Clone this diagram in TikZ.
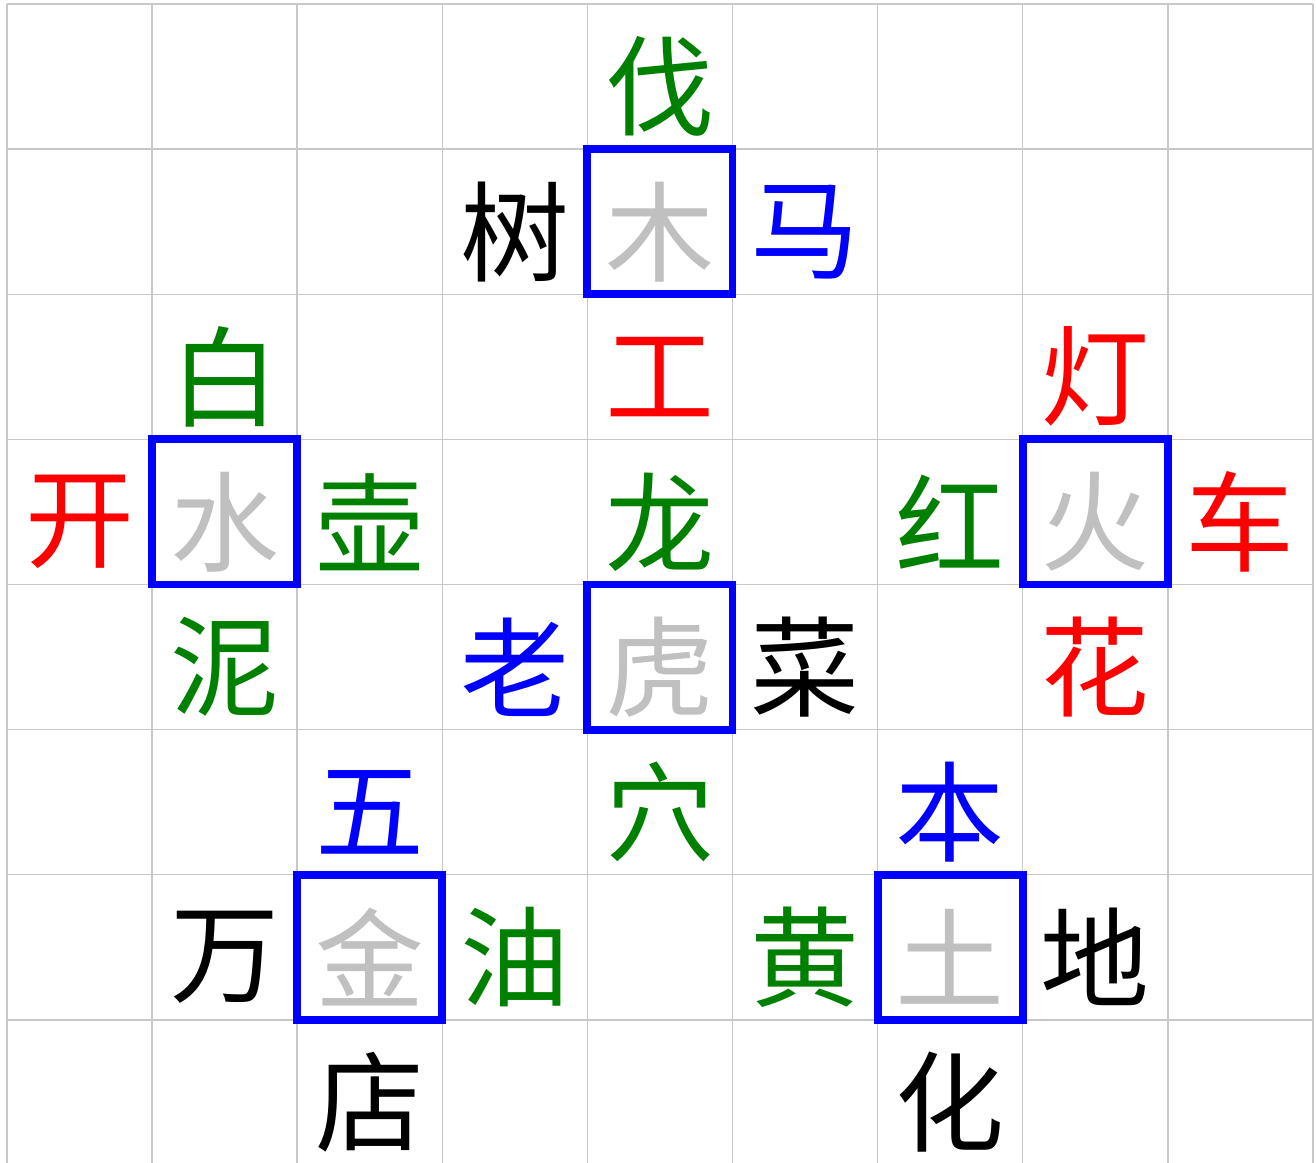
\documentclass[tikz,border=0pt]{standalone}
\usepackage{fontspec}
\newfontfamily\cjk{Noto Sans CJK SC}
\usepackage{tikz}
\usetikzlibrary{positioning}
\definecolor{gridgray}{RGB}{200,200,200}
\definecolor{hubgray}{RGB}{192,192,192}
\definecolor{wgreen}{RGB}{0,128,0}
\tikzset{ch/.style={font=\cjk\fontsize{62}{62}\selectfont,inner sep=0pt,yshift=-0.2cm}}
\tikzset{hub/.style={ch,text=hubgray}}
\tikzset{hubbox/.style={draw=blue,line width=4.5pt}}
\newcommand{\wordgrid}{
    \foreach \gx in {0,...,9} \draw[gridgray,line width=0.8pt] (\gx,0) -- (\gx,8);
    \foreach \gy in {0,...,8} \draw[gridgray,line width=0.8pt] (0,\gy) -- (9,\gy);
}

\begin{document}
\begin{tikzpicture}[x=2.902cm,y=-2.902cm]
        \useasboundingbox (-0.048,-0.028) rectangle (9.021,7.981);
        \clip (-0.048,-0.028) rectangle (9.021,7.981);
        \wordgrid

        % centre pieces
        \node[hub] (mu) at (4.5,1.5) {木};
        \node[hub] (shui) at (1.5,3.5) {水};
        \node[hub] (huo) at (7.5,3.5) {火};
        \node[hub] (hu) at (4.5,4.5) {虎};
        \node[hub] (jin) at (2.5,6.5) {金};
        \node[hub] (tu) at (6.5,6.5) {土};
        \draw[hubbox] (4,1) rectangle (5,2);
        \draw[hubbox] (1,3) rectangle (2,4);
        \draw[hubbox] (7,3) rectangle (8,4);
        \draw[hubbox] (4,4) rectangle (5,5);
        \draw[hubbox] (2,6) rectangle (3,7);
        \draw[hubbox] (6,6) rectangle (7,7);

        % wood
        \node[ch,text=wgreen] (fa) at (4.5,0.5) {伐};
        \node[ch,text=black] (shu) at (3.5,1.5) {树};
        \node[ch,text=blue] (ma) at (5.5,1.5) {马};
        \node[ch,text=red] (gong) at (4.5,2.5) {工};

        % water
        \node[ch,text=wgreen] (bai) at (1.5,2.5) {白};
        \node[ch,text=red] (kai) at (0.5,3.5) {开};
        \node[ch,text=wgreen] (hu2) at (2.5,3.5) {壶};
        \node[ch,text=wgreen] (ni) at (1.5,4.5) {泥};

        % fire
        \node[ch,text=red] (deng) at (7.5,2.5) {灯};
        \node[ch,text=wgreen] (hong) at (6.5,3.5) {红};
        \node[ch,text=red] (che) at (8.5,3.5) {车};
        \node[ch,text=red] (hua) at (7.5,4.5) {花};

        % tiger
        \node[ch,text=wgreen] (long) at (4.5,3.5) {龙};
        \node[ch,text=blue] (lao) at (3.5,4.5) {老};
        \node[ch,text=black] (cai) at (5.5,4.5) {菜};
        \node[ch,text=wgreen] (xue) at (4.5,5.5) {穴};

        % metal
        \node[ch,text=blue] (wu) at (2.5,5.5) {五};
        \node[ch,text=black] (wan) at (1.5,6.5) {万};
        \node[ch,text=wgreen] (you) at (3.5,6.5) {油};
        \node[ch,text=black] (dian) at (2.5,7.5) {店};

        % earth
        \node[ch,text=blue] (ben) at (6.5,5.5) {本};
        \node[ch,text=wgreen] (huang) at (5.5,6.5) {黄};
        \node[ch,text=black] (di) at (7.5,6.5) {地};
        \node[ch,text=black] (hua2) at (6.5,7.5) {化};
    \end{tikzpicture}
\end{document}
